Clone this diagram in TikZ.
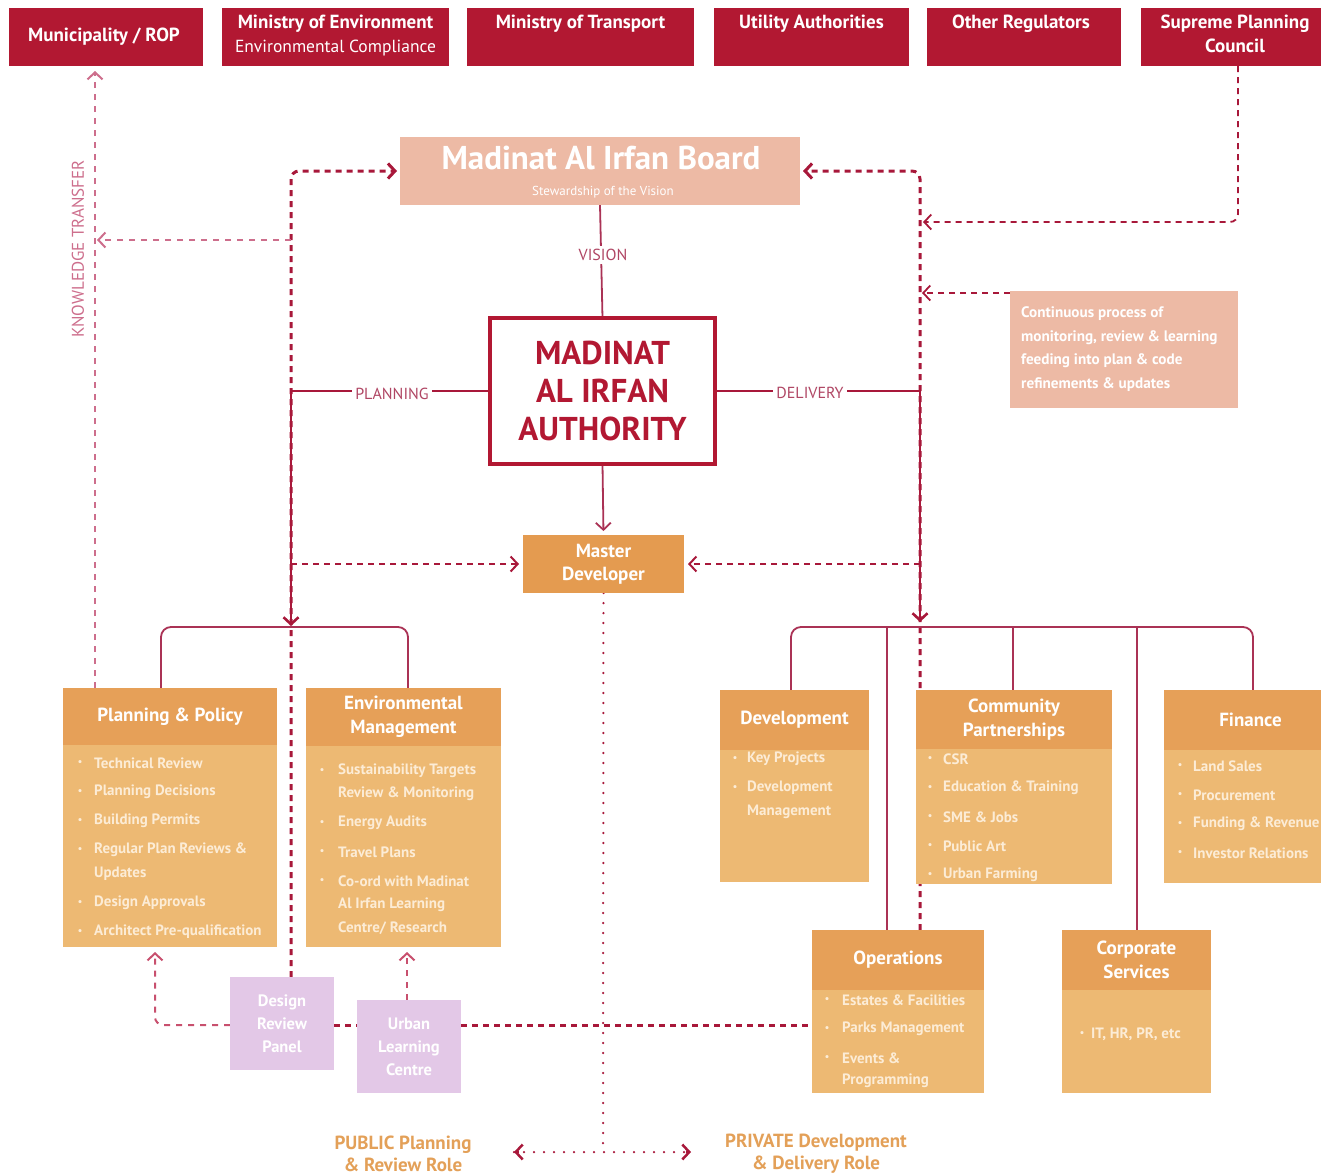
\documentclass[tikz,border=0pt]{standalone}
\usepackage{fontspec}
\setmainfont{PT Sans}
\usetikzlibrary{arrows.meta,backgrounds}
\definecolor{dred}{RGB}{178,24,50}
\definecolor{lred}{RGB}{168,24,58}
\definecolor{treec}{RGB}{170,50,85}
\definecolor{salmon}{RGB}{237,186,165}
\definecolor{mdor}{RGB}{228,155,80}
\definecolor{hdor}{RGB}{230,160,88}
\definecolor{bdor}{RGB}{237,185,115}
\definecolor{lav}{RGB}{227,200,231}
\definecolor{ktcol}{RGB}{205,110,140}
\definecolor{pinkc}{RGB}{200,80,110}
\definecolor{labc}{RGB}{176,70,100}
\definecolor{itc}{RGB}{252,236,214}
\definecolor{rolec}{RGB}{227,160,88}
\newcommand\bitem[4]{\node[bul] at (#1,#3) {\textbullet}; \node[itm] at (#2,#3) {#4};}
\newcommand\citem[3]{\node[itm] at (#1,#2) {#3};}
\begin{document}
\begin{tikzpicture}[x=1pt,y=-1pt,
 box/.style={inner sep=0pt,outer sep=0pt},
 topbox/.style={box,fill=dred,minimum height=58},
 toptxt/.style={text=white,font=\bfseries\fontsize{19}{22}\selectfont,align=center,inner sep=0pt},
 hdr/.style={box,fill=hdor,text=white,font=\bfseries\fontsize{19}{24}\selectfont,align=center},
 body/.style={box,fill=bdor},
 itm/.style={anchor=west,inner sep=0pt,text=itc,font=\bfseries\fontsize{15}{17}\selectfont},
 bul/.style={anchor=center,inner sep=0pt,text=itc,font=\fontsize{11}{12}\selectfont},
 ctxt/.style={anchor=west,inner sep=0pt,text=white,font=\bfseries\fontsize{15.2}{17}\selectfont},
 lavbox/.style={box,fill=lav,text=white,font=\bfseries\fontsize{16.5}{23}\selectfont,align=center},
 lbl/.style={fill=white,inner sep=3pt,text=labc,font=\fontsize{16}{18}\selectfont},
 solidc/.style={draw=lred,line width=2.6},
 bigdash/.style={draw=lred,line width=3,dash pattern=on 6pt off 5pt},
 smalldash/.style={draw=lred,line width=2,dash pattern=on 6pt off 5pt},
 pinkdash/.style={draw=pinkc,line width=2,dash pattern=on 6pt off 6pt},
 ktdash/.style={draw=ktcol,line width=2,dash pattern=on 6pt off 6pt},
 treel/.style={draw=treec,line width=1.8},
 dotl/.style={draw=lred,line width=2.5,line cap=round,dash pattern=on 0pt off 10pt},
 chev/.tip={Straight Barb[length=7pt,width=15pt]}
]
\useasboundingbox (0,0) rectangle (1321,1175);

% ---------- top boxes
\node[topbox,minimum width=194] (mun) at (106,37) {};
\node[toptxt] at (104,37) {Municipality / ROP};
\node[topbox,minimum width=227] (moe) at (335.5,37) {};
\node[toptxt] at (335.5,24) {Ministry of Environment};
\node[toptxt,font=\fontsize{17.5}{20}\selectfont] at (335.5,48) {Environmental Compliance};
\node[topbox,minimum width=227] (mot) at (580.5,37) {};
\node[toptxt] at (580.5,24) {Ministry of Transport};
\node[topbox,minimum width=195] (ua) at (811.5,37) {};
\node[toptxt] at (811.5,24) {Utility Authorities};
\node[topbox,minimum width=194] (oreg) at (1024,37) {};
\node[toptxt] at (1021,24) {Other Regulators};
\node[topbox,minimum width=180] (spc) at (1231,37) {};
\node[toptxt] at (1235,24) {Supreme Planning};
\node[toptxt] at (1235,46) {Council};

% ---------- board
\node[box,fill=salmon,minimum width=400,minimum height=68] (board) at (600,171) {};
\node[text=white,font=\bfseries\fontsize{33}{35}\selectfont,inner sep=0pt] at (601,158) {Madinat Al Irfan Board};
\node[text=white,font=\fontsize{13}{15}\selectfont,inner sep=0pt] at (603,192) {Stewardship of the Vision};

% ---------- authority
\node[box,draw=dred,line width=4,fill=white,minimum width=225,minimum height=146,text=dred,
  font=\bfseries\fontsize{33}{38}\selectfont,align=center] (auth) at (602.5,391) {MADINAT\\AL IRFAN\\AUTHORITY};

% ---------- master developer
\node[box,fill=mdor,minimum width=161,minimum height=58,text=white,
  font=\bfseries\fontsize{19}{23}\selectfont,align=center] (md) at (603.5,564) {Master\\Developer};

% ---------- continuous process box
\node[box,fill=salmon,minimum width=228,minimum height=117] (cont) at (1124,349.5) {};
\node[ctxt] at (1021,314) {Continuous process of};
\node[ctxt] at (1021,338) {monitoring, review \& learning};
\node[ctxt] at (1021,361) {feeding into plan \& code};
\node[ctxt] at (1021,385) {refinements \& updates};

% ---------- labels
\node[lbl] (vis) at (603,255) {VISION};
\node[lbl] (plan) at (392,394) {PLANNING};
\node[lbl] (deliv) at (810,393) {DELIVERY};
\node[rotate=90,text=ktcol,font=\fontsize{17}{19}\selectfont,inner sep=0pt] (kt) at (78,249) {KNOWLEDGE TRANSFER};

% ---------- departments
\node[hdr,minimum width=214,minimum height=57] (pph) at (170,716.5) {Planning \& Policy};
\node[body,minimum width=214,minimum height=202] (ppb) at (170,846) {};
\bitem{80}{94}{763}{Technical Review}
\bitem{80}{94}{792}{Planning Decisions}
\bitem{80}{94}{821}{Building Permits}
\bitem{80}{94}{850}{Regular Plan Reviews \&}
\citem{94}{874}{Updates}
\bitem{80}{94}{903}{Design Approvals}
\bitem{80}{94}{932}{Architect Pre-qualification}

\node[hdr,minimum width=195,minimum height=58] (envh) at (403.5,717) {Environmental\\Management};
\node[body,minimum width=195,minimum height=201] (envb) at (403.5,846.5) {};
\bitem{322}{338}{771}{Sustainability Targets}
\citem{338}{794}{Review \& Monitoring}
\bitem{322}{338}{823}{Energy Audits}
\bitem{322}{338}{852}{Travel Plans}
\bitem{322}{338}{881}{Co-ord with Madinat}
\citem{338}{905}{Al Irfan Learning}
\citem{338}{928}{Centre/ Research}

\node[hdr,minimum width=149,minimum height=60] (devh) at (794.5,720) {Development};
\node[body,minimum width=149,minimum height=132] (devb) at (794.5,816) {};
\bitem{735}{747}{759}{Key Projects}
\bitem{735}{747}{788}{Development}
\citem{747}{812}{Management}

\node[hdr,minimum width=196,minimum height=59] (cph) at (1014,719.5) {Community\\Partnerships};
\node[body,minimum width=196,minimum height=135] (cpb) at (1014,816.5) {};
\bitem{930}{943}{759}{CSR}
\bitem{930}{943}{788}{Education \& Training}
\bitem{930}{943}{817}{SME \& Jobs}
\bitem{930}{943}{846}{Public Art}
\bitem{930}{943}{875}{Urban Farming}

\node[body,minimum width=157,minimum height=133] (finb) at (1242.5,816.5) {};
\node[hdr,minimum width=157,minimum height=60,text width=140] (finh) at (1242.5,720) {\hspace*{16pt}Finance};
\bitem{1180}{1193}{766}{Land Sales}
\bitem{1180}{1193}{795}{Procurement}
\bitem{1180}{1193}{824}{Funding \& Revenue}
\bitem{1180}{1193}{853}{Investor Relations}

\node[hdr,minimum width=172,minimum height=60] (opsh) at (898,960) {Operations};
\node[body,minimum width=172,minimum height=103] (opsb) at (898,1041.5) {};
\bitem{827}{842}{1000}{Estates \& Facilities}
\bitem{827}{842}{1029}{Parks Management}
\bitem{827}{842}{1058}{Events \&}
\citem{842}{1081}{Programming}

\node[hdr,minimum width=149,minimum height=60] (csh) at (1136.5,960) {Corporate\\Services};
\node[body,minimum width=149,minimum height=103] (csb) at (1136.5,1041.5) {};
\bitem{1082}{1091}{1034}{IT, HR, PR, etc}

% ---------- lavender boxes
\node[lavbox,minimum width=104,minimum height=93] (drp) at (282,1023.5) {Design\\Review\\Panel};
\node[lavbox,minimum width=104,minimum height=93] (ulc) at (409,1046.5) {Urban\\Learning\\Centre};

% ---------- role texts
\node[text=rolec,font=\bfseries\fontsize{19}{22}\selectfont,align=center,inner sep=0pt] (pub) at (403,1154) {PUBLIC Planning\\\& Review Role};
\node[text=rolec,font=\bfseries\fontsize{19}{22}\selectfont,align=center,inner sep=0pt] (priv) at (816,1154) {PRIVATE Development\\\& Delivery Role};

% ---------- coordinates
\coordinate (lv) at (291,171);
\coordinate (rv) at (920,171);
\coordinate (ltree) at (291,626);
\coordinate (rtree) at (920,622);
\coordinate (ktj) at (291,240);
\coordinate (ktcor) at (95,240);
\coordinate (spcor) at (1238,222);
\coordinate (cpj) at (1010,293);
\coordinate (lt1) at (161,627);
\coordinate (lt2) at (408,627);
\coordinate (rt1) at (791,627);
\coordinate (rt2) at (887,627);
\coordinate (rt3) at (1013,627);
\coordinate (rt4) at (1137,627);
\coordinate (rt5) at (1253,627);
\coordinate (dl) at (155,1025);
\coordinate (ulcx) at (407,1000);
\coordinate (mdb) at (603,1146);
\coordinate (rl) at (514,1152);
\coordinate (rr) at (691,1152);

% ---------- connectors
\begin{scope}[on background layer]
\draw[treel] (board.south) -- (auth.north);
\draw[treel,-chev,shorten >=4pt] (auth.south) -- (md.north);
% big dashed verticals
\draw[bigdash,rounded corners=8,-chev,shorten >=3pt] (drp.north -| lv) -- (lv) -- (board.west);
\draw[bigdash,rounded corners=8,-chev,shorten >=3pt] (opsh.north -| rv) -- (rv) -- (board.east);
% planning / delivery
\draw[solidc,-chev] (auth.west) -- (auth.west -| lv) -- (ltree);
\draw[solidc,-chev] (auth.east) -- (auth.east -| rv) -- (rtree);
% dashed to master developer
\draw[smalldash,-chev,shorten >=4pt] (md.west -| lv) -- (md.west);
\draw[smalldash,-chev,shorten >=4pt] (md.east -| rv) -- (md.east);
% knowledge transfer
\draw[ktdash,-chev,shorten >=2pt] (ktj) -- (ktcor);
\draw[ktdash,-chev,shorten >=5pt] (pph.north -| ktcor) -- (mun.south -| ktcor);
% supreme planning council
\draw[smalldash,line width=1.8,rounded corners=8,-chev,shorten >=3pt] (spc.south -| spcor) -- (spcor) -- (spcor -| rv);
% continuous process
\draw[smalldash,line width=1.8,-chev,shorten >=2pt] (cpj) -- (cpj -| rv);
% trees
\draw[treel,rounded corners=10] (pph.north -| lt1) -- (lt1) -- (lt2) -- (envh.north -| lt2);
\draw[treel,rounded corners=10] (devh.north -| rt1) -- (rt1) -- (rt5) -- (finh.north -| rt5);
\draw[treel] (rt2) -- (opsh.north -| rt2);
\draw[treel] (rt3) -- (cph.north -| rt3);
\draw[treel] (rt4) -- (csh.north -| rt4);
% design review / urban learning
\draw[pinkdash,rounded corners=8,-chev,shorten >=5pt] (drp.west |- dl) -- (dl) -- (ppb.south -| dl);
\draw[pinkdash,-chev,shorten >=5pt] (ulcx) -- (envb.south -| ulcx);
\draw[bigdash] (drp.east |- dl) -- (ulc.west |- dl);
\draw[bigdash] (ulc.east |- dl) -- (opsb.west |- dl);
% master developer dotted
\draw[dotl] (md.south) -- (mdb);
\draw[dotl] (rl) -- (rr);
\draw[draw=lred,line width=2.5,-chev] ([xshift=5pt]rl) -- (rl);
\draw[draw=lred,line width=2.5,-chev] ([xshift=-5pt]rr) -- (rr);
\end{scope}
\end{tikzpicture}
\end{document}
